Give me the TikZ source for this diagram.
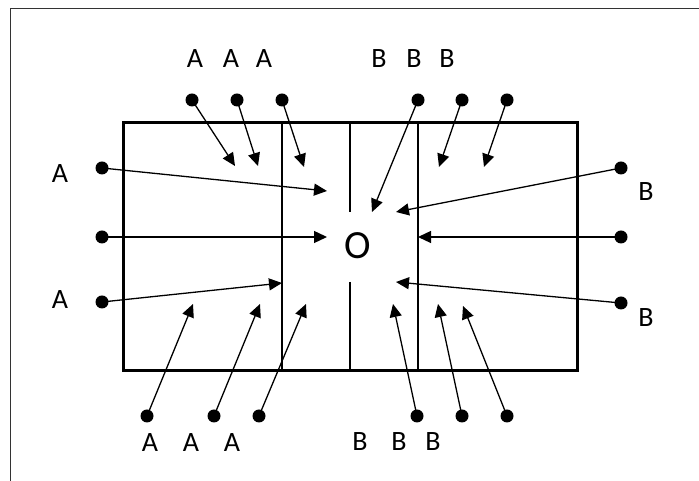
\documentclass[tikz,border=0pt]{standalone}
\usepackage{fontspec}
\setmainfont{Carlito}
\usetikzlibrary{arrows.meta}
\begin{document}
\begin{tikzpicture}[x=1pt,y=1pt,
  dot/.style={circle,fill=black,inner sep=0pt,minimum size=13pt},
  arr/.style={line width=1.3pt,-{Triangle[length=13pt,width=12pt]}},
  lab/.style={font=\fontsize{28}{30}\selectfont,inner sep=0pt},
  frameline/.style={line width=1pt,black!80},
  wall/.style={line width=1.3pt}]
\useasboundingbox (0,0) rectangle (699,481);
% outer frame
\coordinate (f1) at (10,0);
\coordinate (f2) at (10,472);
\coordinate (f3) at (699,472);
\draw[frameline] (f1) -- (f2) -- (f3);
% box and walls
\draw[line width=3pt] (123,110) rectangle (577,358);
\coordinate (w1t) at (282,358); \coordinate (w1b) at (282,110);
\coordinate (w3t) at (418,358); \coordinate (w3b) at (418,110);
\coordinate (w2a) at (350,358); \coordinate (w2b) at (350,269);
\coordinate (w2c) at (350,199); \coordinate (w2d) at (350,110);
\draw[wall] (w1t) -- (w1b);
\draw[wall] (w3t) -- (w3b);
\draw[wall] (w2a) -- (w2b);
\draw[wall] (w2c) -- (w2d);
\node[font=\fontsize{40}{42}\selectfont,inner sep=0pt] (O) at (358,235) {O};
% top A
\node[dot] (ta1) at (192,381) {};
\node[dot] (ta2) at (237,381) {};
\node[dot] (ta3) at (282,381) {};
\coordinate (tta1) at (235,315);
\coordinate (tta2) at (258,315);
\coordinate (tta3) at (304,314);
\draw[arr] (ta1.center) -- (tta1);
\draw[arr] (ta2.center) -- (tta2);
\draw[arr] (ta3.center) -- (tta3);
\node[lab] (lta1) at (195,422) {A};
\node[lab] (lta2) at (231,422) {A};
\node[lab] (lta3) at (264,422) {A};
% left A
\node[dot] (la1) at (102,313) {};
\node[dot] (la2) at (102,244) {};
\node[dot] (la3) at (102,179) {};
\coordinate (tla1) at (327,290);
\coordinate (tla2) at (327,244);
\coordinate (tla3) at (282,198);
\draw[arr] (la1.center) -- (tla1);
\draw[arr] (la2.center) -- (tla2);
\draw[arr] (la3.center) -- (tla3);
\node[lab] (lla1) at (60,307) {A};
\node[lab] (lla3) at (60,181) {A};
% bottom A
\node[dot] (ba1) at (147,65) {};
\node[dot] (ba2) at (214,65) {};
\node[dot] (ba3) at (259,65) {};
\coordinate (tba1) at (193,177);
\coordinate (tba2) at (260,177);
\coordinate (tba3) at (306,177);
\draw[arr] (ba1.center) -- (tba1);
\draw[arr] (ba2.center) -- (tba2);
\draw[arr] (ba3.center) -- (tba3);
\node[lab] (lba1) at (150,38) {A};
\node[lab] (lba2) at (191,38) {A};
\node[lab] (lba3) at (232,38) {A};
% top B
\node[dot] (tb1) at (418,381) {};
\node[dot] (tb2) at (462,381) {};
\node[dot] (tb3) at (507,381) {};
\coordinate (ttb1) at (372,269);
\coordinate (ttb2) at (439,314);
\coordinate (ttb3) at (484,314);
\draw[arr] (tb1.center) -- (ttb1);
\draw[arr] (tb2.center) -- (ttb2);
\draw[arr] (tb3.center) -- (ttb3);
\node[lab] (ltb1) at (379,422) {B};
\node[lab] (ltb2) at (414,422) {B};
\node[lab] (ltb3) at (447,422) {B};
% right B
\node[dot] (rb1) at (621,313) {};
\node[dot] (rb2) at (621,244) {};
\node[dot] (rb3) at (621,178) {};
\coordinate (trb1) at (396,269);
\coordinate (trb2) at (418,244);
\coordinate (trb3) at (396,199);
\draw[arr] (rb1.center) -- (trb1);
\draw[arr] (rb2.center) -- (trb2);
\draw[arr] (rb3.center) -- (trb3);
\node[lab] (lrb1) at (646,289) {B};
\node[lab] (lrb3) at (646,163) {B};
% bottom B
\node[dot] (bb1) at (417,65) {};
\node[dot] (bb2) at (462,65) {};
\node[dot] (bb3) at (507,65) {};
\coordinate (tbb1) at (393,177);
\coordinate (tbb2) at (438,177);
\coordinate (tbb3) at (463,175);
\draw[arr] (bb1.center) -- (tbb1);
\draw[arr] (bb2.center) -- (tbb2);
\draw[arr] (bb3.center) -- (tbb3);
\node[lab] (lbb1) at (360,39) {B};
\node[lab] (lbb2) at (399,39) {B};
\node[lab] (lbb3) at (433,39) {B};
\end{tikzpicture}
\end{document}
